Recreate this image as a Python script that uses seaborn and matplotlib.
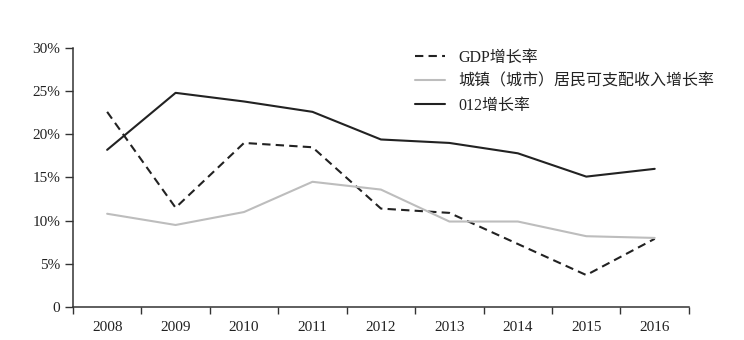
import matplotlib
matplotlib.use("Agg")
import matplotlib.pyplot as plt
import seaborn as sns
import pandas as pd
from matplotlib.ticker import FixedLocator, NullFormatter

years = ["2008", "2009", "2010", "2011", "2012", "2013", "2014", "2015", "2016"]
gdp_growth = [22.6, 11.5, 19.0, 18.5, 11.4, 10.9, 7.3, 3.7, 7.9]
income_growth = [10.8, 9.5, 11.0, 14.5, 13.6, 9.9, 9.9, 8.2, 8.0]
growth_012 = [18.2, 24.8, 23.8, 22.6, 19.4, 19.0, 17.8, 15.1, 16.0]
series_names = ["GDP增长率", "城镇（城市）居民可支配收入增长率", "012增长率"]
y_ticks = [0, 5, 10, 15, 20, 25, 30]
y_labels = ["0", "5%", "10%", "15%", "20%", "25%", "30%"]

sns.set_theme(style="ticks")
plt.rcParams["font.family"] = ["Liberation Serif", "Noto Sans CJK SC"]

fig = plt.figure(figsize=(7.44, 3.4), dpi=100)
ax = fig.add_axes([0.098, 0.097, 0.828, 0.762])

pos = list(range(len(years)))
styles = [
    dict(color="#222222", linestyle=(0, (4, 2.5))),
    dict(color="#bdbdbd", linestyle="-"),
    dict(color="#222222", linestyle="-"),
]
for name, vals, st in zip(series_names, [gdp_growth, income_growth, growth_012], styles):
    df = pd.DataFrame({"x": pos, "y": vals})
    sns.lineplot(data=df, x="x", y="y", ax=ax, label=name, linewidth=1.5, **st)

ax.set_xlim(-0.5, len(years) - 0.5)
ax.set_ylim(0, 30)
ax.xaxis.set_major_locator(FixedLocator([p - 0.5 for p in range(len(years) + 1)]))
ax.xaxis.set_major_formatter(NullFormatter())
ax.xaxis.set_minor_locator(FixedLocator(pos))
ax.set_xticklabels(years, minor=True)
ax.tick_params(axis="x", which="major", direction="out", length=5, width=1, color="#333333")
ax.tick_params(axis="x", which="minor", length=0, pad=10, labelsize=11, labelcolor="#222222")
ax.set_yticks(y_ticks)
ax.set_yticklabels(y_labels)
ax.tick_params(axis="y", direction="out", length=6, width=1, color="#333333",
               labelsize=11, labelcolor="#222222", pad=3)
ax.set_xlabel("")
ax.set_ylabel("")
for s in ["top", "right"]:
    ax.spines[s].set_visible(False)
for s in ["left", "bottom"]:
    ax.spines[s].set_color("#333333")
    ax.spines[s].set_linewidth(1.1)

leg = ax.legend(loc="upper left", bbox_to_anchor=(0.532, 1.05), frameon=False,
                fontsize=11.5, handlelength=1.9, handletextpad=0.8, labelspacing=0.52)
for t in leg.get_texts():
    t.set_color("#222222")

fig.savefig("out.png", dpi=100, facecolor="white")
